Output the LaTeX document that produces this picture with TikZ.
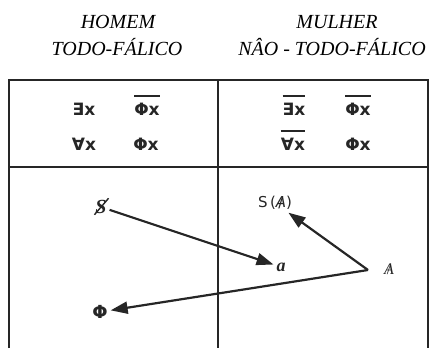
\documentclass[tikz,border=0pt]{standalone}
\usepackage{fontspec}
\setmainfont{Liberation Serif}
\newfontfamily\symf{DejaVu Sans}
\usetikzlibrary{arrows.meta}
\newcommand{\barA}{\ooalign{\itshape A\cr\hidewidth/\hidewidth\cr}}
\begin{document}
\begin{tikzpicture}[x=1pt,y=-1pt,
  hdr/.style={font=\fontsize{20}{22}\selectfont\itshape, inner sep=0pt, anchor=base},
  sym/.style={font=\fontsize{17}{18}\selectfont\symf\bfseries, text=black!85, inner sep=0pt, text height=12pt, text depth=0pt},
  ovl/.style={line width=2.6pt, draw=black!85},
  frame/.style={line width=1.8pt, draw=black!85},
  arr/.style={line width=2.2pt, draw=black!85, -{Triangle[length=17pt,width=12pt]}},
  lbl/.style={inner sep=0pt, outer sep=3pt, text=black!85}]
\useasboundingbox (0,0) rectangle (438,348);
% headers
\node[hdr] (h1) at (118,28) {HOMEM};
\node[hdr] (h2) at (117,55) {TODO-FÁLICO};
\node[hdr] (h3) at (337,28) {MULHER};
\node[hdr] (h4) at (332,55) {NÂO - TODO-FÁLICO};
% frame
\draw[frame] (9,348) -- (9,80) -- (428,80) -- (428,348);
\draw[frame] (218,80) -- (218,348);
\draw[frame] (9,167) -- (428,167);
% formulas
\node[sym] (e1) at (84,109) {∃x};
\node[sym] (p1) at (147,109) {Φx};
\node[sym] (a1) at (84,144) {∀x};
\node[sym] (p2) at (146,144) {Φx};
\node[sym] (e2) at (294,109) {∃x};
\node[sym] (p3) at (358,109) {Φx};
\node[sym] (a2) at (293,144) {∀x};
\node[sym] (p4) at (358,144) {Φx};
\draw[ovl] ([yshift=7pt]p1.north west) -- ([yshift=7pt]p1.north east);
\draw[ovl] ([yshift=7pt]e2.north west) -- ([yshift=7pt]e2.north east);
\draw[ovl] ([yshift=7pt]p3.north west) -- ([yshift=7pt]p3.north east);
\draw[ovl] ([yshift=7pt]a2.north west) -- ([yshift=7pt]a2.north east);
% lower cells
\node[lbl, font=\fontsize{20}{22}\selectfont\bfseries\itshape] (sb) at (101,207) {S};
\draw[line width=1.4pt, draw=black!85] ([xshift=2pt,yshift=2pt]sb.south west) -- ([xshift=-1pt,yshift=-1pt]sb.north east);
\node[lbl, font=\fontsize{18}{20}\selectfont\bfseries\itshape] (a) at (281,267) {a};
\node[lbl, font=\fontsize{15}{17}\selectfont\symf] (sa) at (275,203) {S\,(\barA)};
\node[lbl, font=\fontsize{16}{18}\selectfont] (ab) at (389,269) {\barA};
\node[lbl, font=\fontsize{18}{20}\selectfont\symf\bfseries] (phi) at (100,312) {Φ};
\coordinate (ap) at (368,270);
\draw[arr] (sb) -- (a);
\draw[arr] (ap) -- (sa);
\draw[arr] (ap) -- (phi);
\end{tikzpicture}
\end{document}
